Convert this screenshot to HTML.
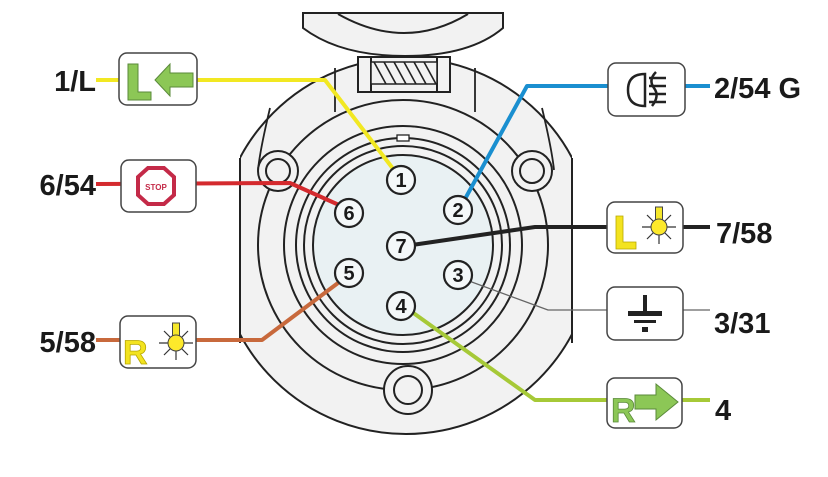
<!DOCTYPE html>
<html><head><meta charset="utf-8"><style>
html,body{margin:0;padding:0;background:#fff;}
svg{display:block;}
text{font-family:"Liberation Sans",Arial,sans-serif;font-weight:bold;fill:#1a1a1a;}
</style></head><body>
<svg width="828" height="477" viewBox="0 0 828 477" xmlns="http://www.w3.org/2000/svg">
<defs>
<clipPath id="strip"><rect x="240" y="0" width="332" height="477"/></clipPath>
<g id="lamp">
  <g stroke="#333" stroke-width="1.2">
    <line x1="-17" y1="0" x2="17" y2="0"/>
    <line x1="-12" y1="-12" x2="12" y2="12"/>
    <line x1="-12" y1="12" x2="12" y2="-12"/>
    <line x1="0" y1="0" x2="0" y2="17"/>
  </g>
  <rect x="-3.5" y="-20" width="7" height="14" fill="#f5e72a" stroke="#444" stroke-width="1"/>
  <circle cx="0" cy="0" r="8" fill="#fde92b" stroke="#444" stroke-width="1"/>
</g>
</defs>

<path d="M303,13 H503 V28 Q470,56 405,56 Q340,56 303,28 Z" fill="#f2f2f2" stroke="#222" stroke-width="2"/>
<path d="M338,14 Q405,52 468,14" fill="none" stroke="#222" stroke-width="2"/>

<g clip-path="url(#strip)">
  <circle cx="406" cy="246" r="188" fill="#f2f2f2" stroke="#222" stroke-width="2"/>
</g>
<line x1="240" y1="158" x2="240" y2="343" stroke="#222" stroke-width="2"/>
<line x1="572" y1="158" x2="572" y2="343" stroke="#222" stroke-width="2"/>
<line x1="335" y1="68" x2="335" y2="112" stroke="#222" stroke-width="1.8"/>
<line x1="475" y1="68" x2="475" y2="112" stroke="#222" stroke-width="1.8"/>
<path d="M270,108 Q260,150 258,170" fill="none" stroke="#222" stroke-width="1.8"/>
<path d="M542,108 Q552,150 554,170" fill="none" stroke="#222" stroke-width="1.8"/>
<rect x="358" y="57" width="92" height="35" fill="#f2f2f2" stroke="#222" stroke-width="2"/>
<line x1="371" y1="57" x2="371" y2="92" stroke="#222" stroke-width="2"/>
<line x1="437" y1="57" x2="437" y2="92" stroke="#222" stroke-width="2"/>
<rect x="371" y="62" width="66" height="22" fill="#f2f2f2" stroke="#222" stroke-width="1.5"/>
<g stroke="#222" stroke-width="1.6">
<line x1="374" y1="62" x2="386" y2="84"/><line x1="384" y1="62" x2="396" y2="84"/>
<line x1="394" y1="62" x2="406" y2="84"/><line x1="404" y1="62" x2="416" y2="84"/>
<line x1="414" y1="62" x2="426" y2="84"/><line x1="424" y1="62" x2="436" y2="84"/>
</g>

<circle cx="403" cy="245" r="145" fill="#f2f2f2" stroke="#222" stroke-width="2"/>
<circle cx="403" cy="245" r="119" fill="#f2f2f2" stroke="#222" stroke-width="2"/>
<circle cx="403" cy="245" r="107" fill="#f2f2f2" stroke="#222" stroke-width="2"/>
<circle cx="403" cy="245" r="99" fill="#f2f2f2" stroke="#222" stroke-width="2"/>
<circle cx="403" cy="245" r="90" fill="#e9f1f3" stroke="#222" stroke-width="2"/>
<rect x="397" y="135" width="12" height="6" fill="#fff" stroke="#222" stroke-width="1.3"/>

<g fill="#f2f2f2" stroke="#222" stroke-width="2">
<circle cx="278" cy="171" r="20"/><circle cx="278" cy="171" r="12"/>
<circle cx="532" cy="171" r="20"/><circle cx="532" cy="171" r="12"/>
<circle cx="408" cy="390" r="24"/><circle cx="408" cy="390" r="14"/>
</g>

<g fill="none" stroke-linejoin="round">
<polyline points="96,80 325,80 394,170" stroke="#f2e822" stroke-width="4"/>
<polyline points="465,199 527,86 710,86" stroke="#1a8fd0" stroke-width="4"/>
<polyline points="96,184 290,183 339,205" stroke="#d42a2e" stroke-width="4"/>
<polyline points="412,245 535,227 710,227" stroke="#222" stroke-width="4"/>
<polyline points="469,281 548,310 710,310" stroke="#666" stroke-width="1.2"/>
<polyline points="412,312 535,400 710,400" stroke="#a6c937" stroke-width="4"/>
<polyline points="338,283 262,340 96,340" stroke="#c8693c" stroke-width="4"/>
</g>

<g font-size="20" text-anchor="middle">
<g fill="#f4f8f9" stroke="#222" stroke-width="2.2">
<circle cx="401" cy="180" r="14"/><circle cx="458" cy="210" r="14"/>
<circle cx="349" cy="213" r="14"/><circle cx="401" cy="246" r="14"/>
<circle cx="349" cy="273" r="14"/><circle cx="458" cy="275" r="14"/>
<circle cx="401" cy="306" r="14"/>
</g>
<text x="401" y="187">1</text><text x="458" y="217">2</text>
<text x="349" y="220">6</text><text x="401" y="253">7</text>
<text x="349" y="280">5</text><text x="458" y="282">3</text>
<text x="401" y="313">4</text>
</g>

<g fill="#fff" stroke="#444" stroke-width="1.5">
<rect x="119" y="53" width="78" height="52" rx="8"/>
<rect x="121" y="160" width="75" height="52" rx="8"/>
<rect x="120" y="316" width="76" height="52" rx="8"/>
<rect x="608" y="63" width="77" height="53" rx="8"/>
<rect x="607" y="202" width="76" height="51" rx="8"/>
<rect x="607" y="287" width="76" height="53" rx="8"/>
<rect x="607" y="378" width="75" height="50" rx="8"/>
</g>

<path d="M128,64 H138 V92 H151 V100 H128 Z" fill="#8cc756" stroke="#5a8a3a" stroke-width="1"/>
<path d="M155,80 L170,64 V73 H193 V87 H170 V96 Z" fill="#8cc756" stroke="#5a8a3a" stroke-width="1"/>
<polygon points="148,168 164,168 174,177 174,195 164,204 148,204 138,195 138,177" fill="#fff" stroke="#c42a48" stroke-width="4"/>
<text x="156" y="190" font-size="8" text-anchor="middle" style="fill:#c42a48">STOP</text>
<text x="123" y="364" font-size="34" style="fill:#f3e31f;stroke:#b8a800;stroke-width:0.8">R</text>
<use href="#lamp" x="176" y="343"/>
<path d="M645,74 Q628,74 628,90 Q628,106 645,106 Z" fill="none" stroke="#222" stroke-width="2.5"/>
<path d="M656,72 Q648,80 654,88 Q660,96 652,106" fill="none" stroke="#222" stroke-width="2.5"/>
<g stroke="#222" stroke-width="2.5">
<line x1="649" y1="78" x2="666" y2="78"/><line x1="649" y1="86" x2="666" y2="86"/>
<line x1="649" y1="94" x2="666" y2="94"/><line x1="649" y1="102" x2="666" y2="102"/>
</g>
<path d="M616,216 H623 V242 H636 V249 H616 Z" fill="#f3e31f" stroke="#b8a800" stroke-width="0.8"/>
<use href="#lamp" x="659" y="227"/>
<g fill="#222">
<rect x="643" y="295" width="4" height="17"/>
<rect x="628" y="311" width="34" height="5"/>
<rect x="634" y="320" width="22" height="3"/>
<rect x="642" y="327" width="6" height="5"/>
</g>
<text x="611" y="422" font-size="34" style="fill:#8cc756;stroke:#5a8a3a;stroke-width:0.8">R</text>
<path d="M635,395 H656 V384 L678,402 L656,420 V409 H635 Z" fill="#8cc756" stroke="#5a8a3a" stroke-width="1"/>

<g font-size="29">
<text x="96" y="91" text-anchor="end">1/L</text>
<text x="96" y="195" text-anchor="end">6/54</text>
<text x="96" y="352" text-anchor="end">5/58</text>
<text x="714" y="98">2/54 G</text>
<text x="716" y="243">7/58</text>
<text x="714" y="333">3/31</text>
<text x="715" y="420">4</text>
</g>
</svg>
</body></html>
